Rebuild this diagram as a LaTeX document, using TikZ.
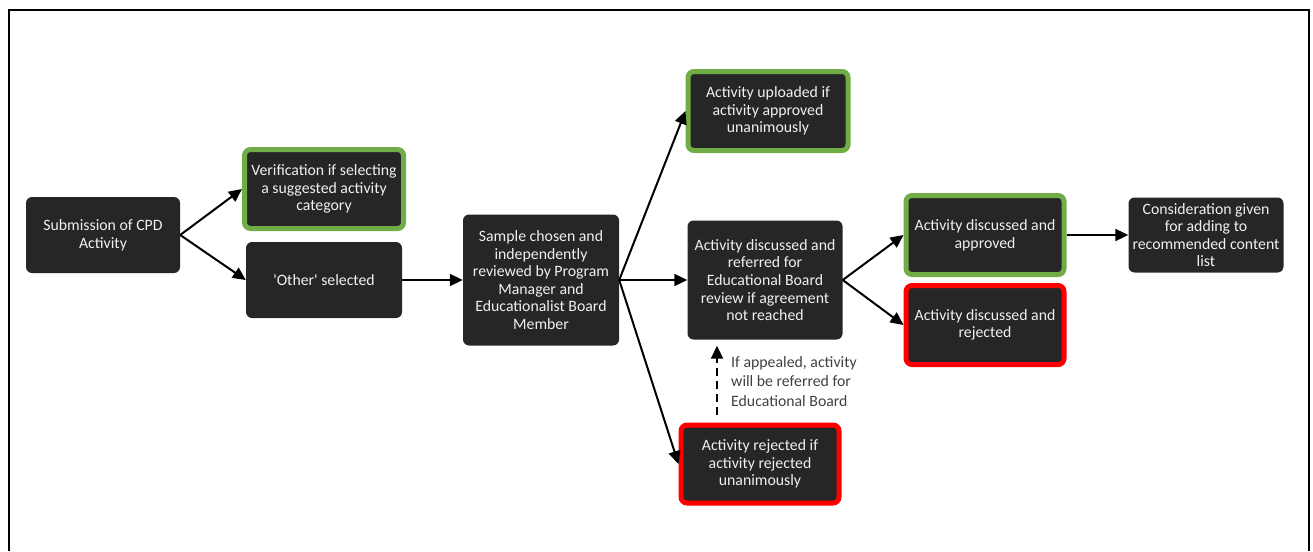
\documentclass[tikz,border=0pt]{standalone}
\usepackage{fontspec}
\setmainfont{Carlito}
\usetikzlibrary{arrows.meta, positioning}
\definecolor{boxfill}{HTML}{262626}
\definecolor{okgreen}{HTML}{70AD47}
\definecolor{badred}{HTML}{FF0000}
\definecolor{notegray}{HTML}{404040}
\tikzset{
    stepbox/.style={fill=boxfill, rounded corners=6pt, text=white!94!black, align=center,
        inner sep=0pt, font=\fontsize{15.8}{17.6}\selectfont},
    okbox/.style={stepbox, draw=okgreen, line width=5pt},
    badbox/.style={stepbox, draw=badred, line width=5pt},
    flow/.style={-{Triangle[length=13pt,width=12pt]}, line width=2pt},
    note/.style={text=notegray, align=left, inner sep=0pt, font=\fontsize{15.8}{19.5}\selectfont}
}

\begin{document}
\begin{tikzpicture}[x=1pt, y=-1pt]
    \useasboundingbox (0,0) rectangle (1313,551);
    \draw[line width=2pt] (9,551) -- (9,10) -- (1309,10) -- (1309,551);
    % boxes
    \node[stepbox, minimum width=154pt, minimum height=76pt] (sub) at (103,235) {Submission of CPD\\Activity};
    \node[okbox, minimum width=159pt, minimum height=79pt] (verif) at (324,189) {Verification if selecting\\a suggested activity\\category};
    \node[stepbox, minimum width=156pt, minimum height=76pt] (other) at (324,280) {\textquotesingle Other\textquotesingle\ selected};
    \node[stepbox, minimum width=156pt, minimum height=131pt] (sample) at (541,280) {Sample chosen and\\independently\\reviewed by Program\\Manager and\\Educationalist Board\\Member};
    \node[okbox, minimum width=160pt, minimum height=79pt] (upload) at (768,111) {Activity uploaded if\\activity approved\\unanimously};
    \node[stepbox, minimum width=155pt, minimum height=119pt] (refer) at (765,280) {Activity discussed and\\referred for\\Educational Board\\review if agreement\\not reached};
    \node[badbox, minimum width=158pt, minimum height=78pt] (rejun) at (760,464) {Activity rejected if\\activity rejected\\unanimously};
    \node[okbox, minimum width=158pt, minimum height=79pt] (appr) at (985,235) {Activity discussed and\\approved};
    \node[badbox, minimum width=158pt, minimum height=79pt] (rej) at (985,325) {Activity discussed and\\rejected};
    \node[stepbox, minimum width=155pt, minimum height=75pt] (consid) at (1206,235) {Consideration given\\for adding to\\recommended content\\list};
    \node[note, anchor=north west] (apnote) at (731,356) {If appealed, activity\\will be referred for\\Educational Board};
    \coordinate (apl) at (717,0);
    % arrows
    \draw[flow] (sub.east) -- (verif.west);
    \draw[flow] (sub.east) -- (other.west);
    \draw[flow] (other) -- (sample);
    \draw[flow] (sample.east) -- (upload.west);
    \draw[flow] (sample) -- (refer);
    \draw[flow] (sample.east) -- (rejun.west);
    \draw[flow] (refer.east) -- (appr.west);
    \draw[flow] (refer.east) -- (rej.west);
    \draw[flow] (appr) -- (consid);
    \draw[flow, dash pattern=on 8pt off 5pt, shorten <=8pt, shorten >=6pt] (rejun.north -| apl) -- (refer.south -| apl);
\end{tikzpicture}
\end{document}
